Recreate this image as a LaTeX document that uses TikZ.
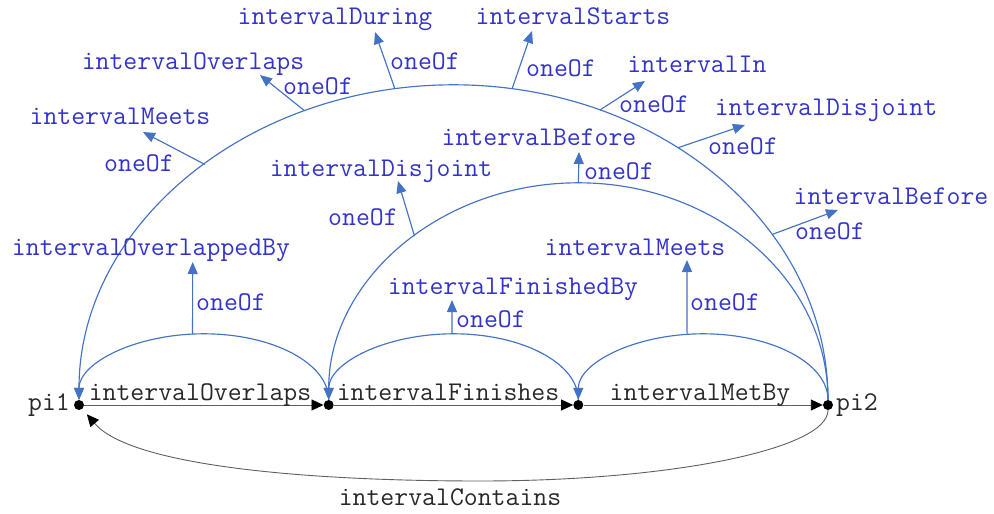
\documentclass[tikz,border=0pt]{standalone}
\usetikzlibrary{arrows.meta,calc}
\definecolor{relblue}{RGB}{68,114,196}
\definecolor{reltext}{RGB}{50,50,205}
\definecolor{edgegray}{RGB}{95,95,95}
\definecolor{inktext}{RGB}{40,40,40}
\begin{document}
\begin{tikzpicture}[x=1pt,y=-1pt,
  font=\ttfamily\fontsize{27}{31}\selectfont,
  dot/.style={circle,fill=black,inner sep=0pt,minimum size=10pt},
  lbl/.style={anchor=base,inner sep=0pt,text=reltext},
  edgelbl/.style={anchor=base,inner sep=0pt,text=inktext},
  rel/.style={draw=relblue,line width=1.15pt,-{Triangle[length=12pt,width=10pt]}},
  seq/.style={draw=edgegray,line width=0.9pt,-{Triangle[length=12pt,width=11pt,color=black]}},
]
\useasboundingbox (0,0) rectangle (994,514);

% interval points
\node[dot] (pi1) at (79,405) {};
\node[dot] (p2) at (328.7,405) {};
\node[dot] (p3) at (578.3,405) {};
\node[dot] (pi2) at (828,405) {};
\node[edgelbl] (lpi1) at (49,410) {pi1};
\node[edgelbl] (lpi2) at (857,410) {pi2};

% sequence edges
\draw[seq] (pi1) -- (p2);
\draw[seq] (p2) -- (p3);
\draw[seq] (p3) -- (pi2);
\node[edgelbl] (eOv) at (200,400) {intervalOverlaps};
\node[edgelbl] (eFi) at (448,400) {intervalFinishes};
\node[edgelbl] (eMb) at (700,400) {intervalMetBy};

% closing edge underneath
\coordinate (bend) at (480,481);
\draw[seq,shorten >=7pt] (pi2.south) .. controls (828,449) and (671,481) .. (bend)
  .. controls (300,481) and (130,465) .. (pi1);
\node[edgelbl] (eCo) at (450,505) {intervalContains};

% arc centres
\coordinate (cB) at (453.5,400);
\coordinate (cM) at (578.35,400);
\coordinate (c1) at (203.85,400);
\coordinate (c2) at (453.5,400);
\coordinate (c3) at (703.15,400);

% relation arcs
\draw[rel] (pi2.north) arc[start angle=0,end angle=180,x radius=374.5pt,y radius=315pt];
\draw[rel] (pi2.north) arc[start angle=0,end angle=180,x radius=249.65pt,y radius=217pt];
\draw[rel] (p2.north) arc[start angle=0,end angle=180,x radius=124.85pt,y radius=66pt];
\draw[rel] (p3.north) arc[start angle=0,end angle=180,x radius=124.8pt,y radius=66pt];
\draw[rel] (pi2.north) arc[start angle=0,end angle=180,x radius=124.85pt,y radius=66pt];

% branch points on the arcs
\coordinate (tA) at ($(cB)+(131.6:374.5pt and 315pt)$);
\coordinate (tB) at ($(cB)+(113.4:374.5pt and 315pt)$);
\coordinate (tC) at ($(cB)+(99:374.5pt and 315pt)$);
\coordinate (tD) at ($(cB)+(81:374.5pt and 315pt)$);
\coordinate (tE) at ($(cB)+(67:374.5pt and 315pt)$);
\coordinate (tF) at ($(cB)+(53.2:374.5pt and 315pt)$);
\coordinate (tG) at ($(cB)+(31.7:374.5pt and 315pt)$);
\coordinate (tH) at ($(cM)+(131:249.65pt and 217pt)$);
\coordinate (tI) at ($(cM)+(90:249.65pt and 217pt)$);
\coordinate (tJ) at ($(c1)+(95.2:124.85pt and 66pt)$);
\coordinate (tK) at ($(c2)+(90.7:124.8pt and 66pt)$);
\coordinate (tL) at ($(c3)+(97.4:124.85pt and 66pt)$);

% arrow heads of the branches
\coordinate (hA) at (143,132);
\coordinate (hB) at (260,75);
\coordinate (hC) at (375,32);
\coordinate (hD) at (532,31);
\coordinate (hE) at (645,81);
\coordinate (hF) at (745,125);
\coordinate (hG) at (838,210);
\coordinate (hH) at (398,181);
\coordinate (hI) at (579,152);
\coordinate (hJ) at (192.7,262);
\coordinate (hK) at (452,300);
\coordinate (hL) at (687,260);

\foreach \b in {A,B,C,D,E,F,G,H,I,J,K,L}
  \draw[rel] (t\b) -- (h\b);

% relation targets
\node[lbl] (nA) at (120,124) {intervalMeets};
\node[lbl] (nB) at (193,69) {intervalOverlaps};
\node[lbl] (nC) at (335,24) {intervalDuring};
\node[lbl] (nD) at (573,24) {intervalStarts};
\node[lbl] (nE) at (697,72) {intervalIn};
\node[lbl] (nF) at (826,115) {intervalDisjoint};
\node[lbl] (nG) at (891,204) {intervalBefore};
\node[lbl] (nH) at (381,176) {intervalDisjoint};
\node[lbl] (nI) at (539,145) {intervalBefore};
\node[lbl] (nJ) at (151,255) {intervalOverlappedBy};
\node[lbl] (nK) at (513,294) {intervalFinishedBy};
\node[lbl] (nL) at (635,255) {intervalMeets};

% branch labels
\node[lbl] (oA) at (139,171) {oneOf};
\node[lbl] (oB) at (318,94) {oneOf};
\node[lbl] (oC) at (425,69) {oneOf};
\node[lbl] (oD) at (561,76) {oneOf};
\node[lbl] (oE) at (654,112) {oneOf};
\node[lbl] (oF) at (743,154) {oneOf};
\node[lbl] (oG) at (830,239) {oneOf};
\node[lbl] (oH) at (363,225) {oneOf};
\node[lbl] (oI) at (619,179) {oneOf};
\node[lbl] (oJ) at (231,310) {oneOf};
\node[lbl] (oK) at (491,327) {oneOf};
\node[lbl] (oL) at (725,310) {oneOf};
\end{tikzpicture}
\end{document}
